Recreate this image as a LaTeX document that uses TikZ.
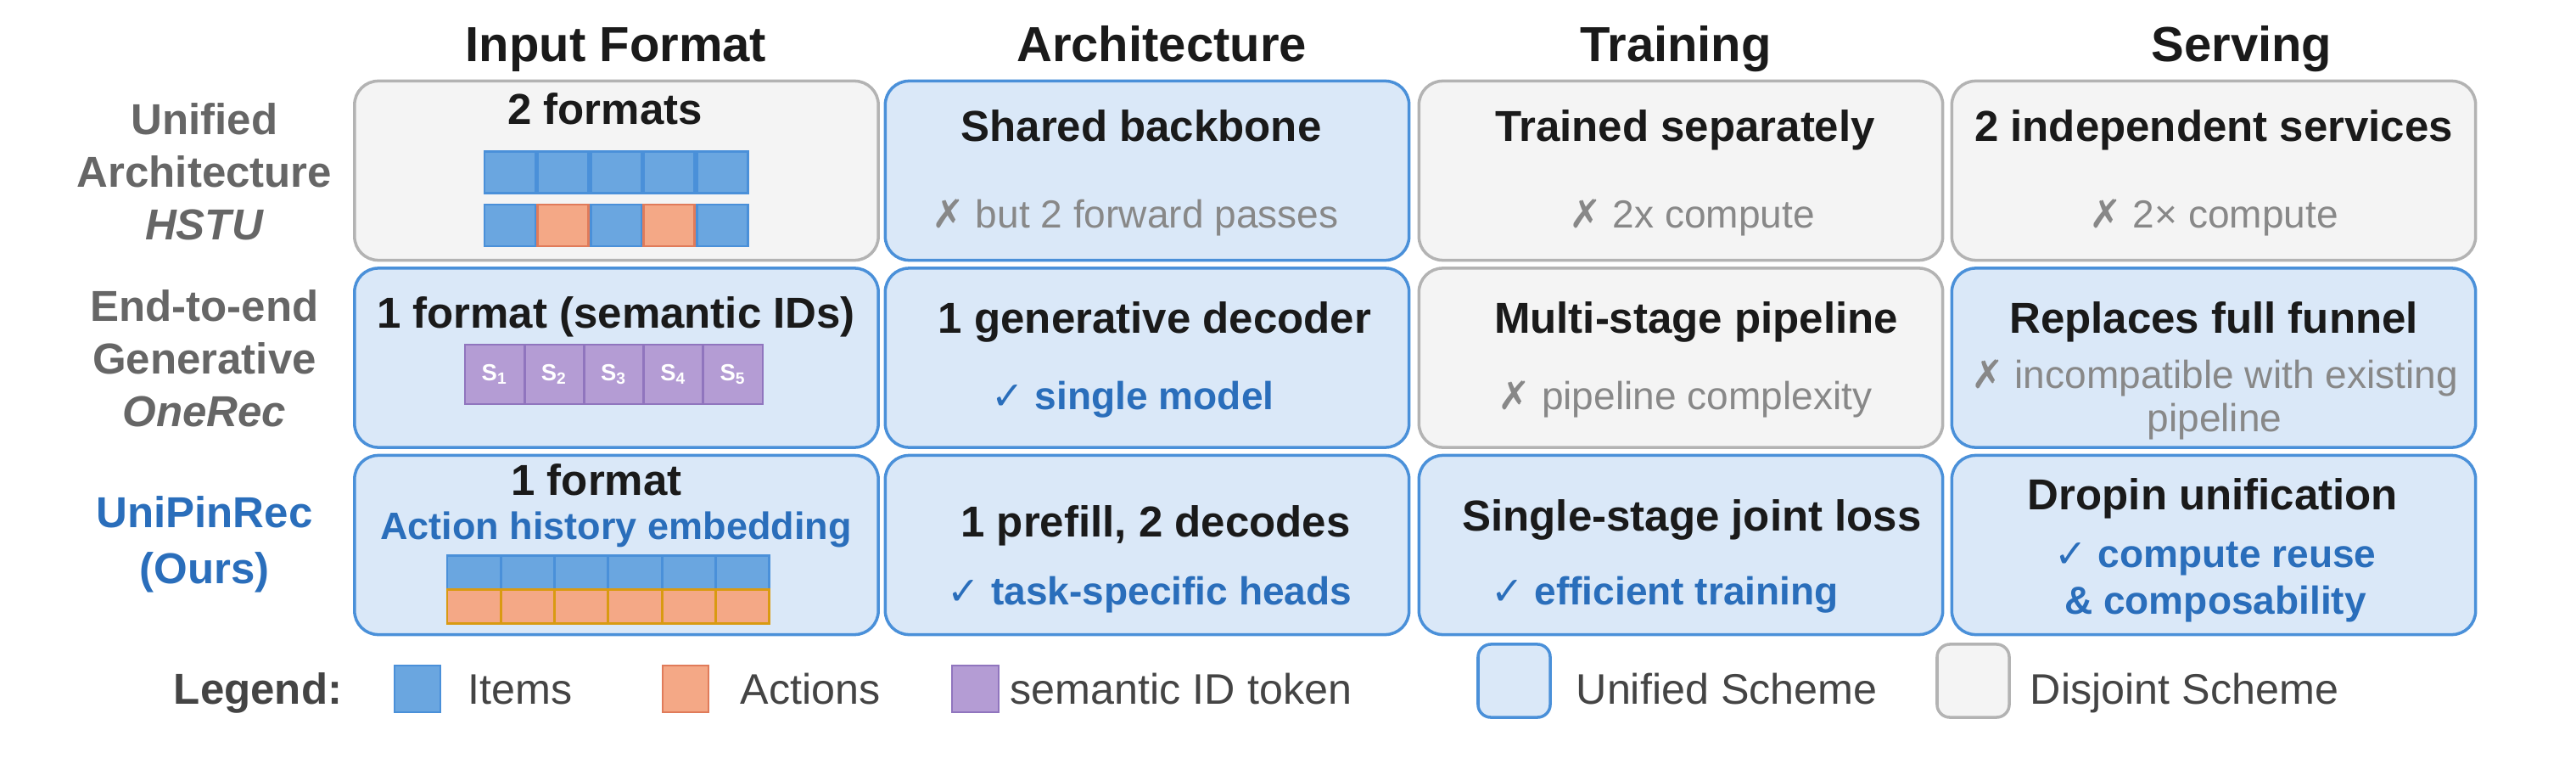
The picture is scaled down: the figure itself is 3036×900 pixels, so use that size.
\documentclass[tikz,border=0pt]{standalone}
\usepackage{fontspec}
\setmainfont{Liberation Sans}
\newfontfamily\symfont{DejaVu Sans}
\usepackage{xcolor}
\usepackage{tikz}
\usetikzlibrary{positioning}

\definecolor{unifill}{HTML}{DAE8F8}
\definecolor{uniedge}{HTML}{4A90D9}
\definecolor{disfill}{HTML}{F4F4F4}
\definecolor{disedge}{HTML}{B3B3B3}
\definecolor{itemfill}{HTML}{6AA6E0}
\definecolor{itemedge}{HTML}{4A90D9}
\definecolor{actfill}{HTML}{F4A886}
\definecolor{actedge}{HTML}{E07B5A}
\definecolor{actgold}{HTML}{D99A12}
\definecolor{semfill}{HTML}{B49CD4}
\definecolor{semedge}{HTML}{9075BE}
\definecolor{txtdark}{HTML}{1A1A1A}
\definecolor{lblgray}{HTML}{666666}
\definecolor{congray}{HTML}{888888}
\definecolor{problue}{HTML}{2A6EBB}
\definecolor{legtext}{HTML}{444444}

\newcommand{\xmark}{{\symfont ✗}}
\newcommand{\cmark}{{\symfont ✓}}

\begin{document}
\begin{tikzpicture}[
    x=0.01cm, y=-0.01cm,
    head/.style={font=\fontsize{16.5}{20}\selectfont\bfseries, text=txtdark, anchor=base},
    rowlab/.style={font=\fontsize{14.5}{17.6}\selectfont\bfseries, text=lblgray, align=center, anchor=base},
    cellbox/.style={rectangle, rounded corners=0.28cm, line width=1pt, minimum width=6.17cm, minimum height=2.11cm},
    unified/.style={cellbox, draw=uniedge, fill=unifill},
    disjoint/.style={cellbox, draw=disedge, fill=disfill},
    cellhead/.style={font=\fontsize{14.5}{17.6}\selectfont\bfseries, text=txtdark, anchor=base},
    con/.style={font=\fontsize{13.1}{14.5}\selectfont, text=congray, anchor=base, align=center},
    pro/.style={font=\fontsize{13.1}{15.6}\selectfont\bfseries, text=problue, anchor=base, align=center},
    sq/.style={rectangle, inner sep=0pt, line width=0.8pt},
    itemsq/.style={sq, draw=itemedge, fill=itemfill, minimum width=0.6cm, minimum height=0.49cm},
    actsq/.style={sq, draw=actedge, fill=actfill, minimum width=0.6cm, minimum height=0.49cm},
    semsq/.style={sq, draw=semedge, fill=semfill, minimum width=0.702cm, minimum height=0.7cm, text=white, font=\fontsize{7.8}{9}\selectfont\bfseries},
    embtop/.style={sq, draw=itemedge, fill=itemfill, minimum width=0.633cm, minimum height=0.4cm},
    embbot/.style={sq, draw=actgold, fill=actfill, minimum width=0.633cm, minimum height=0.4cm},
    legtxt/.style={font=\fontsize{14.3}{17.6}\selectfont, text=legtext, anchor=base west, inner xsep=0pt},
    legbox/.style={rectangle, rounded corners=0.15cm, line width=1pt, minimum width=0.85cm, minimum height=0.86cm}
]
    \useasboundingbox (0,0) rectangle (3036,900);

    % column heads
    \node[head] (hin) at (726,72) {Input Format};
    \node[head] (har) at (1369,72) {Architecture};
    \node[head] (htr) at (1975,72) {Training};
    \node[head] (hsv) at (2642,72) {Serving};

    % row labels (base = last line)
    \node[rowlab] (lhstu) at (241,282) {Unified\\Architecture\\\textit{HSTU}};
    \node[rowlab] (lonerec) at (241,502) {End-to-end\\Generative\\\textit{OneRec}};
    \node[rowlab, text=problue, font=\fontsize{14.5}{18.5}\selectfont\bfseries] (lours) at (241,687) {UniPinRec\\(Ours)};

    % cells
    \node[disjoint] (in1) at (726.5,201) {};
    \node[unified]  (ar1) at (1352,201) {};
    \node[disjoint] (tr1) at (1981,201) {};
    \node[disjoint] (sv1) at (2609,201) {};
    \node[unified]  (in2) at (726.5,421.5) {};
    \node[unified]  (ar2) at (1352,421.5) {};
    \node[disjoint] (tr2) at (1981,421.5) {};
    \node[unified]  (sv2) at (2609,421.5) {};
    \node[unified]  (in3) at (726.5,642) {};
    \node[unified]  (ar3) at (1352,642) {};
    \node[unified]  (tr3) at (1981,642) {};
    \node[unified]  (sv3) at (2609,642) {};

    % row 1
    \node[cellhead] (t11) at (713,146) {2 formats};
    \foreach \i in {0,...,4}
        \node[itemsq] (fa\i) at (601+62.6*\i,203) {};
    \foreach \i/\s in {0/itemsq,1/actsq,2/itemsq,3/actsq,4/itemsq}
        \node[\s] (fb\i) at (601+62.6*\i,265.5) {};
    \node[cellhead] (t12) at (1345,166) {Shared backbone};
    \node[con] (c12) at (1338,268) {\xmark\ but 2 forward passes};
    \node[cellhead] (t13) at (1986,166) {Trained separately};
    \node[con] (c13) at (1994,268) {\xmark\ 2x compute};
    \node[cellhead] (t14) at (2609,166) {2 independent services};
    \node[con] (c14) at (2609,268) {\xmark\ 2× compute};

    % row 2
    \node[cellhead] (t21) at (726,386) {1 format (semantic IDs)};
    \foreach \i in {1,...,5}
        \node[semsq] (sid\i) at (548+70.2*\i-35.1,441) {S\textsubscript{\i}};
    \node[cellhead] (t22) at (1361,392) {1 generative decoder};
    \node[pro] (p22) at (1335,482) {\cmark\ single model};
    \node[cellhead] (t23) at (1999,392) {Multi-stage pipeline};
    \node[con] (c23) at (1986,482) {\xmark\ pipeline complexity};
    \node[cellhead] (t24) at (2609,392) {Replaces full funnel};
    \node[con] (c24) at (2610,508) {\xmark\ incompatible with existing\\pipeline};

    % row 3
    \node[cellhead] (t31) at (703,583) {1 format};
    \node[pro, font=\fontsize{12.8}{15}\selectfont\bfseries] (p31) at (726,635) {Action history embedding};
    \foreach \i in {0,...,5} {
        \node[embtop] (ea\i) at (558.6+63.3*\i,674.5) {};
        \node[embbot] (eb\i) at (558.6+63.3*\i,714.5) {};
    }
    \node[cellhead] (t32) at (1362,632) {1 prefill, 2 decodes};
    \node[pro] (p32) at (1355,712) {\cmark\ task-specific heads};
    \node[cellhead] (t33) at (1994,625) {Single-stage joint loss};
    \node[pro] (p33) at (1962,712) {\cmark\ efficient training};
    \node[cellhead] (t34) at (2608,600) {Dropin unification};
    \node[pro] (p34) at (2611,723) {\cmark\ compute reuse\\\& composability};

    % legend
    \node[font=\fontsize{14.5}{17.6}\selectfont\bfseries, text=legtext, anchor=base] (leg) at (304,829) {Legend:};
    \node[sq, draw=itemedge, fill=itemfill, minimum width=0.54cm, minimum height=0.55cm] (kitem) at (492,811.5) {};
    \node[legtxt] (litem) at (551,829) {Items};
    \node[sq, draw=actedge, fill=actfill, minimum width=0.54cm, minimum height=0.55cm] (kact) at (808,811.5) {};
    \node[legtxt] (lact) at (872,829) {Actions};
    \node[sq, draw=semedge, fill=semfill, minimum width=0.55cm, minimum height=0.55cm] (ksem) at (1149.5,811.5) {};
    \node[legtxt] (lsem) at (1190,829) {semantic ID token};
    \node[legbox, draw=uniedge, fill=unifill] (kuni) at (1784.5,802) {};
    \node[legtxt] (luni) at (1857,829) {Unified Scheme};
    \node[legbox, draw=disedge, fill=disfill] (kdis) at (2325.5,802) {};
    \node[legtxt] (ldis) at (2392,829) {Disjoint Scheme};
\end{tikzpicture}
\end{document}
